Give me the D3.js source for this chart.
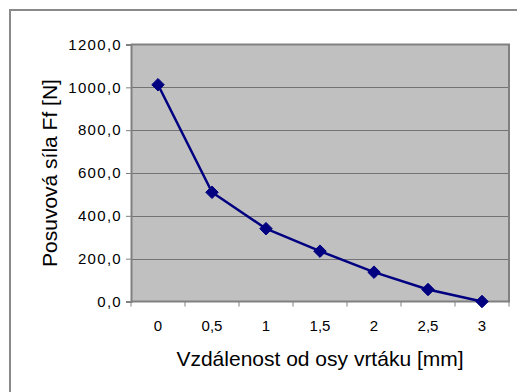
<!DOCTYPE html>
<html>
<head>
<meta charset="utf-8">
<script src="https://cdn.jsdelivr.net/npm/d3@7"></script>
<style>
  html, body { margin: 0; padding: 0; background: #fff; }
  svg { display: block; font-family: "Liberation Sans", Arial, sans-serif; }
</style>
</head>
<body>
<svg id="chart" width="517" height="392"></svg>
<script>
// Feed force vs. distance from the drill axis
const categories = ["0", "0,5", "1", "1,5", "2", "2,5", "3"];
const forceValues = [1012, 510, 340, 235, 137, 56, 0];
const yTickValues = [0, 200, 400, 600, 800, 1000, 1200];
const yTickLabels = ["0,0", "200,0", "400,0", "600,0", "800,0", "1000,0", "1200,0"];
const xTitle = "Vzdálenost od osy vrtáku [mm]";
const yTitle = "Posuvová síla Ff [N]";

const svg = d3.select("#chart");
const plot = { left: 131, right: 509, top: 44.5, bottom: 301.5 };

// outer chart frame (extends past the window on the right and bottom)
svg.append("rect")
  .attr("x", 10).attr("y", 10)
  .attr("width", 600).attr("height", 500)
  .attr("fill", "#fff").attr("stroke", "#8a8a8a").attr("stroke-width", 2);

const x = d3.scaleBand().domain(categories).range([plot.left, plot.right]).padding(0);
const y = d3.scaleLinear().domain([0, 1200]).range([plot.bottom, plot.top]);

// plot area background
svg.append("rect")
  .attr("x", plot.left).attr("y", plot.top)
  .attr("width", plot.right - plot.left).attr("height", plot.bottom - plot.top)
  .attr("fill", "#c0c0c0");

// horizontal gridlines
svg.append("g").selectAll("line")
  .data(yTickValues.filter(v => v > 0 && v < 1200))
  .join("line")
  .attr("x1", plot.left).attr("x2", plot.right)
  .attr("y1", d => Math.round(y(d)) + 0.5).attr("y2", d => Math.round(y(d)) + 0.5)
  .attr("stroke", "#737373").attr("stroke-width", 1);

// plot border: top and right
svg.append("path")
  .attr("d", `M${plot.left},${plot.top}H${plot.right}V${plot.bottom}`)
  .attr("fill", "none").attr("stroke", "#808080").attr("stroke-width", 2);

// y axis
const yAxis = d3.axisLeft(y)
  .tickValues(yTickValues)
  .tickFormat((d, i) => yTickLabels[i])
  .tickSize(5).tickPadding(4);
const gy = svg.append("g").attr("transform", `translate(${plot.left},0)`).call(yAxis);
gy.select(".domain").attr("stroke", "#808080").attr("stroke-width", 2);
gy.selectAll(".tick line").attr("stroke", "#808080");
gy.selectAll(".tick text").attr("font-size", 15).attr("fill", "#000")
  .attr("letter-spacing", 1.3)
  .attr("font-family", "Liberation Sans, Arial, sans-serif");

// x axis: category labels centered, ticks on band boundaries
const xAxis = d3.axisBottom(x).tickSize(0).tickPadding(19);
const gx = svg.append("g").attr("transform", `translate(0,${plot.bottom})`).call(xAxis);
gx.select(".domain").remove();
gx.selectAll(".tick text").attr("font-size", 15).attr("fill", "#000")
  .attr("font-family", "Liberation Sans, Arial, sans-serif");
const bounds = categories.map(c => x(c)).concat([plot.right]);
svg.append("g").selectAll("line")
  .data(bounds)
  .join("line")
  .attr("x1", d => d).attr("x2", d => d)
  .attr("y1", plot.bottom).attr("y2", plot.bottom + 5)
  .attr("stroke", "#808080").attr("stroke-width", 1);
svg.append("line")
  .attr("x1", plot.left).attr("x2", plot.right + 1)
  .attr("y1", plot.bottom).attr("y2", plot.bottom)
  .attr("stroke", "#808080").attr("stroke-width", 2);

// data line
const cx = d => x(d) + x.bandwidth() / 2;
const pts = categories.map((c, i) => [cx(c), y(forceValues[i])]);
svg.append("path")
  .attr("d", d3.line()(pts))
  .attr("fill", "none").attr("stroke", "#000080").attr("stroke-width", 2.5)
  .attr("stroke-linejoin", "round");

// diamond markers
svg.append("g").selectAll("path")
  .data(pts)
  .join("path")
  .attr("transform", d => `translate(${d[0]},${d[1]})`)
  .attr("d", d3.symbol().type(d3.symbolDiamond2).size(100))
  .attr("fill", "#000080").attr("stroke", "#000080").attr("stroke-width", 1);

// axis titles
svg.append("text")
  .attr("x", (plot.left + plot.right) / 2).attr("y", 365.5)
  .attr("text-anchor", "middle").attr("font-size", 21).attr("fill", "#000")
  .text(xTitle);
svg.append("text")
  .attr("transform", `translate(57,${(plot.top + plot.bottom) / 2}) rotate(-90)`)
  .attr("text-anchor", "middle").attr("font-size", 21).attr("fill", "#000")
  .text(yTitle);
</script>
</body>
</html>
